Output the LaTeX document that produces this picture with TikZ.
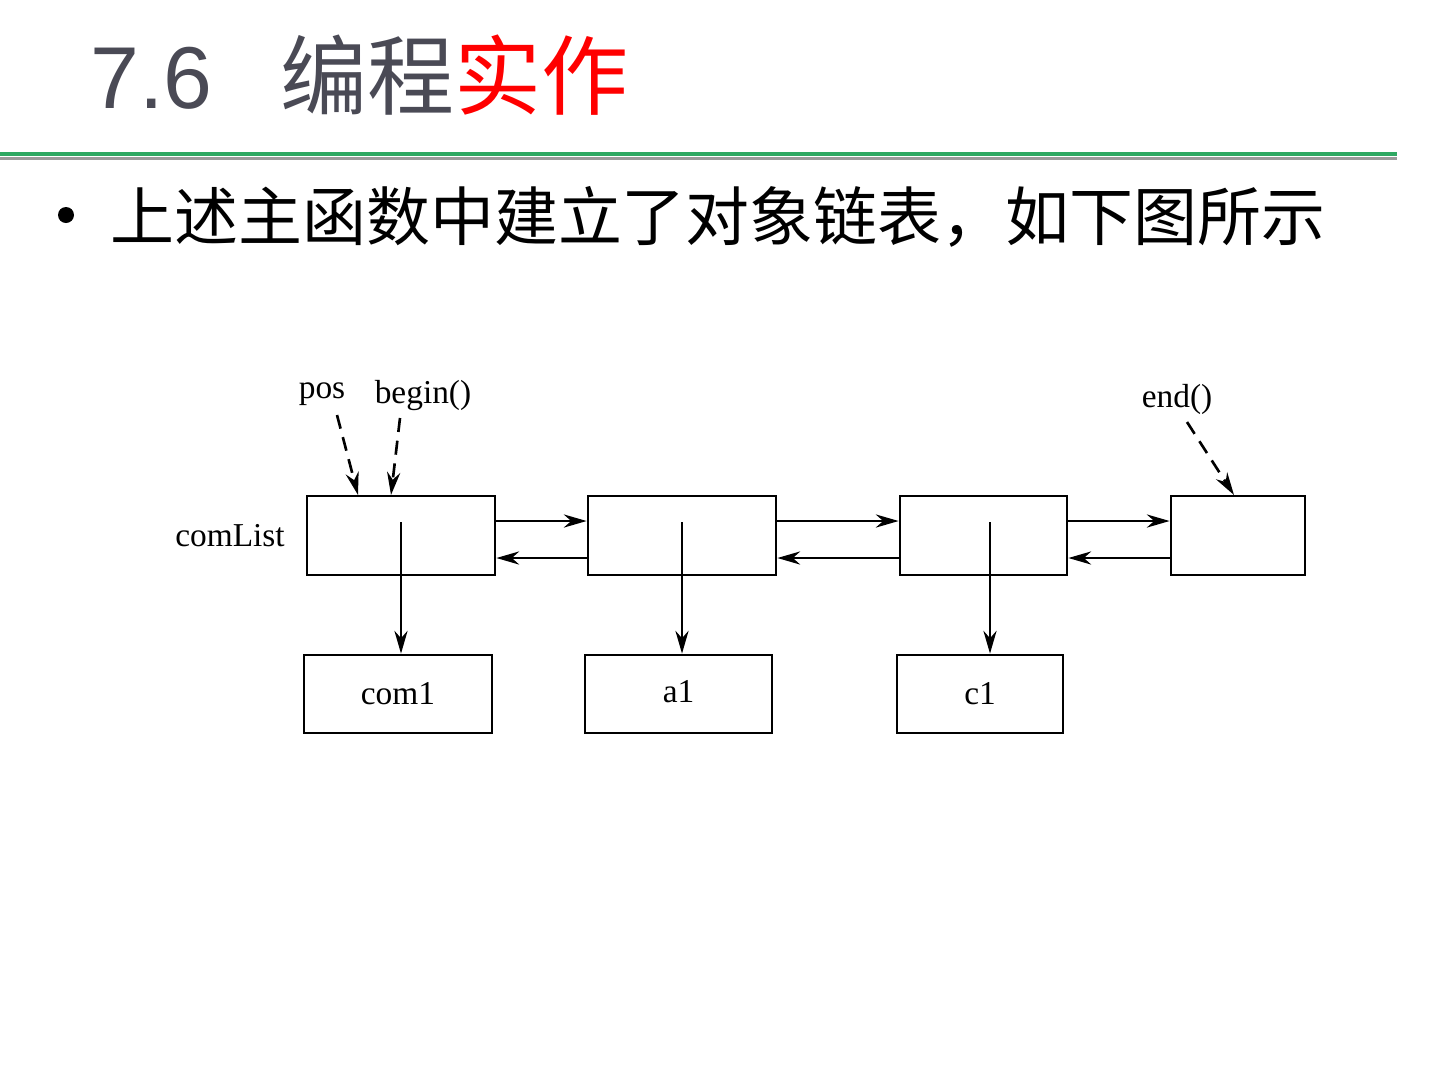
\documentclass[tikz,border=0pt]{standalone}
\usepackage{fontspec}
\setmainfont{Liberation Serif}
\newfontfamily\headfont{Liberation Sans}
\newfontfamily\cjk{Noto Sans CJK SC}
\usepackage{xcolor}
\usetikzlibrary{arrows.meta,positioning}
\definecolor{titlegray}{HTML}{4A4A55}
\definecolor{rulegreen}{HTML}{2EA862}
\definecolor{rulegray}{HTML}{9A9A9A}
\tikzset{
    cell/.style={draw, line width=1.6pt, minimum height=1.58cm, inner sep=0pt},
    objbox/.style={draw, line width=1.6pt, minimum height=1.56cm, inner sep=0pt, font=\fontsize{19}{21}\selectfont},
    link/.style={-{Stealth[length=13pt,width=7.5pt]}, line width=1.3pt},
    ptr/.style={-{Stealth[length=13pt,width=7.5pt]}, line width=1.5pt, dash pattern=on 8pt off 5pt},
    lbl/.style={font=\fontsize{19}{21}\selectfont, inner sep=0pt}
}

\begin{document}
\begin{tikzpicture}[x=0.02cm, y=-0.02cm]
    \useasboundingbox[fill=white] (0,0) rectangle (1440,1080);

    % Title and rules
    \node[anchor=base west, inner sep=0pt, text=titlegray, font=\headfont\fontsize{50}{56}\selectfont] (num) at (90,108) {7.6};
    \node[anchor=base west, inner sep=0pt, font=\cjk\fontsize{49.5}{56}\selectfont] (title) at (280,108)
        {\textcolor{titlegray}{编程}\textcolor{red}{实作}};
    \draw[rulegreen, line width=2pt] (0,154) -- (1397,154);
    \draw[rulegray, line width=2pt] (0,158.5) -- (1397,158.5);

    % Bullet line
    \fill (66,215) circle (8);
    \node[anchor=west, inner sep=0pt, font=\cjk\fontsize{36.4}{40}\selectfont] (intro) at (110,217)
        {上述主函数中建立了对象链表，如下图所示};

    % List cells
    \node[cell, minimum width=3.76cm] (cell1) at (401,535.5) {};
    \node[cell, minimum width=3.76cm] (cell2) at (682,535.5) {};
    \node[cell, minimum width=3.34cm] (cell3) at (983.5,535.5) {};
    \node[cell, minimum width=2.68cm] (cell4) at (1238,535.5) {};
    \node[lbl] (comlist) at (230,536) {comList};

    % Objects
    \node[objbox, minimum width=3.76cm] (com1) at (398,694) {com1};
    \node[objbox, minimum width=3.74cm] (a1) at (678.5,694) {\raisebox{3pt}{a1}};
    \node[objbox, minimum width=3.32cm] (c1) at (980,694) {c1};

    % Links between cells
    \foreach \a/\b in {cell1/cell2, cell2/cell3, cell3/cell4} {
        \draw[link] ([yshift=0.29cm]\a.east) -- ([yshift=0.29cm]\b.west);
        \draw[link] ([yshift=-0.45cm]\b.west) -- ([yshift=-0.45cm]\a.east);
    }

    % Cells to objects
    \draw[link] ([yshift=0.27cm]cell1.center) -- (cell1.center |- com1.north);
    \draw[link] ([yshift=0.27cm]cell2.center) -- (cell2.center |- a1.north);
    \draw[link] ([xshift=0.13cm, yshift=0.27cm]cell3.center) -- ([xshift=0.13cm]cell3.center |- c1.north);

    % Iterators
    \node[lbl] (pos) at (322,394) {pos};
    \node[lbl] (begin) at (423,396) {begin()};
    \node[lbl] (end) at (1177,399) {end()};
    \coordinate (posend) at (358,495);
    \coordinate (beginend) at (391,495);
    \coordinate (endend) at (1234,495);
    \draw[ptr] (337,415) -- (posend);
    \draw[ptr] (400,418) -- (beginend);
    \draw[ptr] (1187,422) -- (endend);
\end{tikzpicture}
\end{document}
